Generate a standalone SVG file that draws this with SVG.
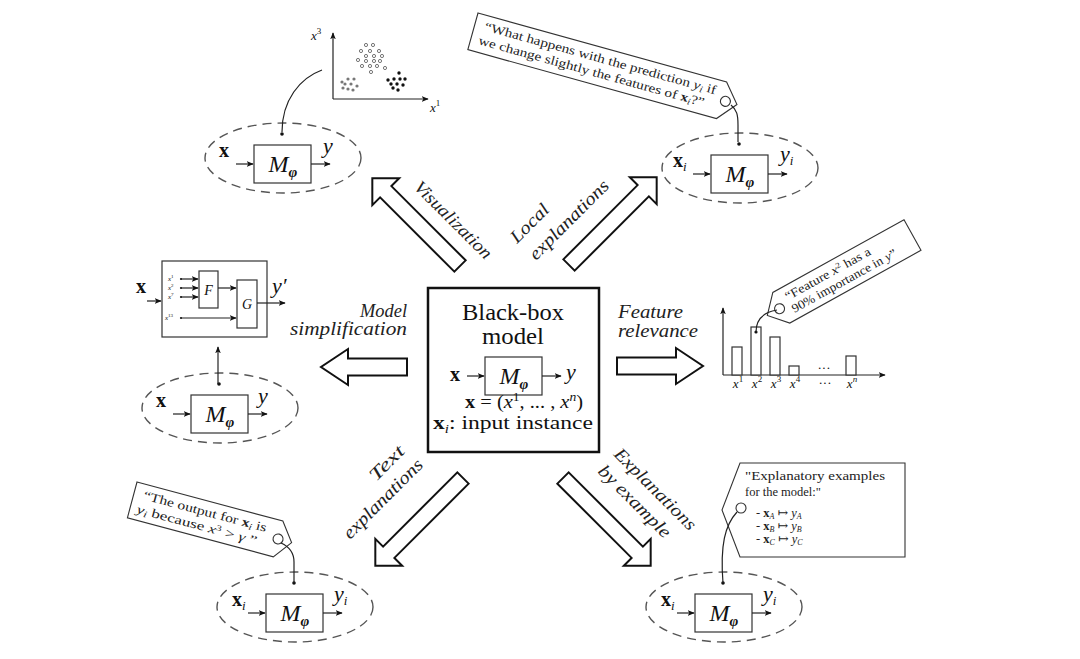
<svg xmlns="http://www.w3.org/2000/svg" width="1080" height="659" viewBox="0 0 1080 659">
<defs>
<style>
.t{font-family:"Liberation Serif","DejaVu Serif",serif;fill:#111}
.it{font-style:italic}
.bd{font-weight:bold}
.lbl{font-family:"Liberation Serif","DejaVu Serif",serif;font-style:italic;font-size:18px;fill:#222}
.tag{fill:#fff;stroke:#333;stroke-width:1.1}
.tagt{font-family:"Liberation Serif","DejaVu Serif",serif;font-size:12.5px;fill:#222}
.dash{fill:none;stroke:#555;stroke-width:1.4;stroke-dasharray:9 6}
.box{fill:#fff;stroke:#333;stroke-width:1.2}
.ln{fill:none;stroke:#222;stroke-width:1.2}
.ar{fill:none;stroke:#222;stroke-width:1.2;marker-end:url(#ah)}
.blk{fill:#fff;stroke:#111;stroke-width:2}
.hole{fill:#fff;stroke:#333;stroke-width:1.1}
.dot{fill:#111}
.oc{fill:#fff;stroke:#666;stroke-width:0.9}
.gc{fill:#777}
.kc{fill:#111}
</style>
<marker id="ah" viewBox="0 0 10 10" refX="9" refY="5" markerWidth="7" markerHeight="7" markerUnits="userSpaceOnUse" orient="auto">
<path d="M0,1 L10,5 L0,9 L2.5,5 Z" fill="#111"/>
</marker>
<path id="hA" d="M0,-8.5 L59,-8.5 L59,-18 L86,0 L59,18 L59,8.5 L0,8.5 Z"/>
<path id="dA" d="M0,-8 L105,-8 L105,-19 L124,0 L105,19 L105,8 L0,8 Z"/>
<g id="mbox">
<rect class="box" x="-29" y="-13" width="57" height="38"/>
<path class="ar" d="M-47,6 H-30"/>
<path class="ar" d="M28,6 H47"/>
<text class="t it" x="0" y="14" font-size="24" text-anchor="middle">M<tspan font-size="15" font-weight="bold" dy="5">φ</tspan></text>
</g>
<g id="core">
<ellipse class="dash" cx="0" cy="0" rx="78" ry="35"/>
<use href="#mbox"/>
<circle class="dot" cx="-1" cy="-24" r="1.8"/>
</g>
</defs>

<rect width="1080" height="659" fill="#fff"/>

<!-- Center black-box model -->
<g id="blackbox">
<rect x="428" y="288" width="171" height="164" fill="#fff" stroke="#111" stroke-width="2.5"/>
<text class="t" x="513" y="320" font-size="23" text-anchor="middle" textLength="102" lengthAdjust="spacingAndGlyphs">Black-box</text>
<text class="t" x="513" y="344" font-size="23" text-anchor="middle" textLength="62" lengthAdjust="spacingAndGlyphs">model</text>
<use href="#mbox" transform="translate(514,370)"/>
<text class="t bd" x="450" y="381" font-size="20">x</text>
<text class="t it" x="566" y="379" font-size="22">y</text>
<text class="t" x="524" y="408" font-size="18" text-anchor="middle" textLength="118" lengthAdjust="spacingAndGlyphs"><tspan font-weight="bold">x</tspan> = (<tspan font-style="italic">x</tspan><tspan dy="-7" font-size="12">1</tspan><tspan dy="7">, ... , </tspan><tspan font-style="italic">x</tspan><tspan dy="-7" font-size="12" font-style="italic">n</tspan><tspan dy="7">)</tspan></text>
<text class="t" x="513" y="429" font-size="19" text-anchor="middle" textLength="160" lengthAdjust="spacingAndGlyphs"><tspan font-weight="bold">x</tspan><tspan font-style="italic" font-size="12" dy="4">i</tspan><tspan dy="-4">: input instance</tspan></text>
</g>

<!-- Visualization node -->
<g id="visualization">
<use href="#core" transform="translate(283,158)"/>
<text class="t bd" x="219" y="157" font-size="20">x</text>
<text class="t it" x="323" y="153" font-size="22">y</text>
<g id="scatter">
<path class="ar" d="M333,99 V33"/>
<path class="ar" d="M333,99 H428"/>
<text class="t it" x="311" y="40" font-size="13">x<tspan dy="-6" font-size="9" font-style="normal">3</tspan></text>
<text class="t it" x="430" y="112" font-size="13">x<tspan dy="-6" font-size="9" font-style="normal">1</tspan></text>
<circle class="oc" cx="366" cy="45" r="1.6"/><circle class="oc" cx="373" cy="45" r="1.6"/>
<circle class="oc" cx="361" cy="51" r="1.6"/><circle class="oc" cx="370" cy="51" r="1.6"/><circle class="oc" cx="379" cy="51" r="1.6"/>
<circle class="oc" cx="366" cy="56" r="1.6"/><circle class="oc" cx="374" cy="56" r="1.6"/><circle class="oc" cx="382" cy="56" r="1.6"/>
<circle class="oc" cx="358" cy="60" r="1.6"/><circle class="oc" cx="366" cy="61" r="1.6"/><circle class="oc" cx="374" cy="61" r="1.6"/><circle class="oc" cx="380" cy="61" r="1.6"/>
<circle class="oc" cx="362" cy="66" r="1.6"/><circle class="oc" cx="370" cy="66" r="1.6"/><circle class="oc" cx="377" cy="66" r="1.6"/><circle class="oc" cx="385" cy="68" r="1.6"/>
<circle class="oc" cx="371" cy="72" r="1.6"/>
<circle class="gc" cx="342" cy="82" r="1.6"/><circle class="gc" cx="348" cy="79" r="1.6"/><circle class="gc" cx="354" cy="79" r="1.6"/>
<circle class="gc" cx="345" cy="84" r="1.6"/><circle class="gc" cx="351" cy="84" r="1.6"/><circle class="gc" cx="357" cy="86" r="1.6"/>
<circle class="gc" cx="343" cy="88" r="1.6"/><circle class="gc" cx="348" cy="89" r="1.6"/><circle class="gc" cx="353" cy="90" r="1.6"/>
<circle class="kc" cx="399" cy="73" r="1.7"/><circle class="kc" cx="388" cy="80" r="1.7"/><circle class="kc" cx="394" cy="79" r="1.7"/>
<circle class="kc" cx="400" cy="79" r="1.7"/><circle class="kc" cx="405" cy="79" r="1.7"/><circle class="kc" cx="391" cy="84" r="1.7"/>
<circle class="kc" cx="397" cy="84" r="1.7"/><circle class="kc" cx="403" cy="85" r="1.7"/><circle class="kc" cx="393" cy="88" r="1.7"/><circle class="kc" cx="398" cy="90" r="1.7"/>
</g>
</g>

<!-- Local explanations node -->
<g id="local">
<use href="#core" transform="translate(740,168)"/>
<text class="t bd" x="673" y="167" font-size="20">x<tspan font-style="italic" font-weight="normal" font-size="13" dy="4">i</tspan></text>
<text class="t it" x="780" y="161" font-size="22">y<tspan font-size="13" dy="4">i</tspan></text>
<g id="tag-local" transform="translate(478,13) rotate(15.5)">
<path class="tag" d="M0,0 H258 L274,19 L258,38 H0 Z"/>
<circle class="hole" cx="262" cy="19" r="5"/>
<text class="tagt" x="10" y="15" textLength="240" lengthAdjust="spacingAndGlyphs">“What happens with the prediction <tspan font-style="italic">y</tspan><tspan font-style="italic" font-size="9" dy="2">i</tspan><tspan dy="-2"> if</tspan></text>
<text class="tagt" x="8" y="30" textLength="234" lengthAdjust="spacingAndGlyphs">we change slightly the features of <tspan font-weight="bold">x</tspan><tspan font-style="italic" font-size="9" dy="2">i</tspan><tspan dy="-2">?”</tspan></text>
</g>
</g>

<!-- Model simplification node -->
<g id="simplification">
<use href="#core" transform="translate(220,408)"/>
<text class="t bd" x="156" y="407" font-size="20">x</text>
<text class="t it" x="258" y="403" font-size="22">y</text>
<g id="simple-model">
<rect class="box" x="162" y="261" width="105" height="76"/>
<text class="t bd" x="136" y="293" font-size="20">x</text>
<path class="ar" d="M147,301 H161"/>
<rect class="box" x="199" y="271" width="19" height="37"/>
<rect class="box" x="237" y="280" width="20" height="48"/>
<text class="t it" x="208.5" y="295" font-size="14" text-anchor="middle">F</text>
<text class="t it" x="247" y="309" font-size="14" text-anchor="middle">G</text>
<circle class="dot" cx="181" cy="279" r="1.1"/><circle class="dot" cx="181" cy="288" r="1.1"/><circle class="dot" cx="181" cy="297" r="1.1"/><circle class="dot" cx="181" cy="318" r="1.1"/>
<path class="ar" d="M181,279 H198"/>
<path class="ar" d="M181,288 H198"/>
<path class="ar" d="M181,297 H198"/>
<path class="ar" d="M181,318 H236"/>
<path class="ar" d="M218,288 H236"/>
<path class="ar" d="M257,303 H285"/>
<text class="t it" x="168" y="281" font-size="7">x<tspan dy="-3" font-size="5" font-style="normal">1</tspan></text>
<text class="t it" x="168" y="290" font-size="7">x<tspan dy="-3" font-size="5" font-style="normal">2</tspan></text>
<text class="t it" x="168" y="299" font-size="7">x<tspan dy="-3" font-size="5" font-style="normal">7</tspan></text>
<text class="t it" x="165" y="320" font-size="7">x<tspan dy="-3" font-size="5" font-style="normal">13</tspan></text>
<text class="t it" x="272" y="293" font-size="22">y′</text>
</g>
</g>

<!-- Feature relevance node -->
<g id="feature">
<path class="ar" d="M723,375 V308"/>
<path class="ar" d="M723,375 H885"/>
<rect class="box" x="732" y="347" width="10" height="28"/>
<rect class="box" x="751" y="327" width="10" height="48"/>
<rect class="box" x="770" y="337" width="10" height="38"/>
<rect class="box" x="789" y="366" width="10" height="9"/>
<rect class="box" x="846" y="356" width="10" height="19"/>
<text class="t" x="824" y="372" font-size="13" text-anchor="middle">···</text>
<g class="t it" font-size="13" text-anchor="middle">
<text x="738" y="388">x<tspan dy="-6" font-size="9" font-style="normal">1</tspan></text>
<text x="757" y="388">x<tspan dy="-6" font-size="9" font-style="normal">2</tspan></text>
<text x="776" y="388">x<tspan dy="-6" font-size="9" font-style="normal">3</tspan></text>
<text x="795" y="388">x<tspan dy="-6" font-size="9" font-style="normal">4</tspan></text>
<text x="852" y="388">x<tspan dy="-6" font-size="9">n</tspan></text>
</g>
<text class="t" x="825" y="387" font-size="13" text-anchor="middle">···</text>
<circle class="dot" cx="756" cy="332" r="1.6"/>
<g id="tag-feature" transform="translate(912.5,235) rotate(-29)">
<path class="tag" d="M0,-17.5 V17.5 H-150 L-166,0 L-150,-17.5 Z"/>
<circle class="hole" cx="-152" cy="0" r="5"/>
<text class="tagt" x="-141" y="-3" font-size="12" textLength="96" lengthAdjust="spacingAndGlyphs">“Feature <tspan font-style="italic">x</tspan><tspan font-size="8" dy="-4">2</tspan><tspan dy="4"> has a</tspan></text>
<text class="tagt" x="-141" y="11" font-size="12" textLength="118" lengthAdjust="spacingAndGlyphs">90% importance in <tspan font-style="italic">y</tspan>”</text>
</g>
</g>

<!-- Text explanations node -->
<g id="text-expl">
<use href="#core" transform="translate(295,607)"/>
<text class="t bd" x="232" y="606" font-size="20">x<tspan font-style="italic" font-weight="normal" font-size="13" dy="4">i</tspan></text>
<text class="t it" x="334" y="601" font-size="22">y<tspan font-size="13" dy="4">i</tspan></text>
<g id="tag-text" transform="translate(137,482) rotate(15)">
<path class="tag" d="M0,0 H151 L165,18.5 L151,37 H0 Z"/>
<circle class="hole" cx="151" cy="18.5" r="5"/>
<text class="tagt" x="10" y="15" textLength="127" lengthAdjust="spacingAndGlyphs">“The output for <tspan font-weight="bold">x</tspan><tspan font-style="italic" font-size="9" dy="2">i</tspan><tspan dy="-2"> is</tspan></text>
<text class="tagt" x="7" y="30" textLength="124" lengthAdjust="spacingAndGlyphs"><tspan font-style="italic">y</tspan><tspan font-style="italic" font-size="9" dy="2">i</tspan><tspan dy="-2"> because </tspan><tspan font-style="italic">x</tspan><tspan font-size="8" dy="-4">3</tspan><tspan dy="4"> &gt; </tspan><tspan font-style="italic">γ</tspan> ”</text>
</g>
</g>

<!-- Explanations by example node -->
<g id="example">
<use href="#core" transform="translate(724,607)"/>
<text class="t bd" x="661" y="606" font-size="20">x<tspan font-style="italic" font-weight="normal" font-size="13" dy="4">i</tspan></text>
<text class="t it" x="763" y="601" font-size="22">y<tspan font-size="13" dy="4">i</tspan></text>
<g id="tag-example">
<path class="tag" d="M740,463 H905 V557 H740 L722,510 Z"/>
<circle class="hole" cx="741" cy="508" r="5"/>
<text class="tagt" x="745" y="480" font-size="13" textLength="140" lengthAdjust="spacingAndGlyphs">"Explanatory examples</text>
<text class="tagt" x="745" y="496" font-size="13">for the model:"</text>
<text class="tagt" x="756" y="517" font-size="12">- <tspan font-weight="bold">x</tspan><tspan font-style="italic" font-size="8" dy="2">A</tspan><tspan dy="-2"> ↦ </tspan><tspan font-style="italic">y</tspan><tspan font-style="italic" font-size="8" dy="2">A</tspan></text>
<text class="tagt" x="756" y="530" font-size="12">- <tspan font-weight="bold">x</tspan><tspan font-style="italic" font-size="8" dy="2">B</tspan><tspan dy="-2"> ↦ </tspan><tspan font-style="italic">y</tspan><tspan font-style="italic" font-size="8" dy="2">B</tspan></text>
<text class="tagt" x="756" y="543" font-size="12">- <tspan font-weight="bold">x</tspan><tspan font-style="italic" font-size="8" dy="2">C</tspan><tspan dy="-2"> ↦ </tspan><tspan font-style="italic">y</tspan><tspan font-style="italic" font-size="8" dy="2">C</tspan></text>
</g>
</g>

<!-- Connectors -->
<g id="connectors">
<path class="ln" d="M282,132 C282,100 300,78 322,70"/>
<path class="ln" d="M731,105 C737,110 738,115 738,125 L738,142"/>
<path class="ar" d="M218,384 V347"/>
<path class="ln" d="M756,332 C756,318 765,312 777,310"/>
<path class="ln" d="M281,543 C290,547 294,553 294,562 L294,583"/>
<path class="ln" d="M737,512 C725,525 720,545 723,583"/>

<use href="#hA" class="blk" transform="translate(407,367) rotate(180)"/>
<use href="#hA" class="blk" transform="translate(617,366)"/>
<use href="#dA" class="blk" transform="translate(460,266) rotate(-135)"/>
<use href="#dA" class="blk" transform="translate(569,265) rotate(-45)"/>
<use href="#dA" class="blk" transform="translate(463,478) rotate(135)"/>
<use href="#dA" class="blk" transform="translate(563,478) rotate(45)"/>

<text class="lbl" x="407" y="317" text-anchor="end" textLength="47" lengthAdjust="spacingAndGlyphs">Model</text>
<text class="lbl" x="407" y="335" text-anchor="end" textLength="117" lengthAdjust="spacingAndGlyphs">simplification</text>
<text class="lbl" x="618" y="318" textLength="65" lengthAdjust="spacingAndGlyphs">Feature</text>
<text class="lbl" x="618" y="337" textLength="80" lengthAdjust="spacingAndGlyphs">relevance</text>
<text class="lbl" x="413" y="188" transform="rotate(45 413 188)" textLength="102" lengthAdjust="spacingAndGlyphs">Visualization</text>
<text class="lbl" x="517" y="244" transform="rotate(-45 517 244)" textLength="47" lengthAdjust="spacingAndGlyphs">Local</text>
<text class="lbl" x="536" y="261" transform="rotate(-45 536 261)" textLength="105" lengthAdjust="spacingAndGlyphs">explanations</text>
<text class="lbl" x="376" y="482" transform="rotate(-45 376 482)" textLength="42" lengthAdjust="spacingAndGlyphs">Text</text>
<text class="lbl" x="350" y="540" transform="rotate(-45 350 540)" textLength="105" lengthAdjust="spacingAndGlyphs">explanations</text>
<text class="lbl" x="613" y="455" transform="rotate(45 613 455)" textLength="108" lengthAdjust="spacingAndGlyphs">Explanations</text>
<text class="lbl" x="597" y="472" transform="rotate(45 597 472)" textLength="95" lengthAdjust="spacingAndGlyphs">by example</text>
</g>
</svg>
